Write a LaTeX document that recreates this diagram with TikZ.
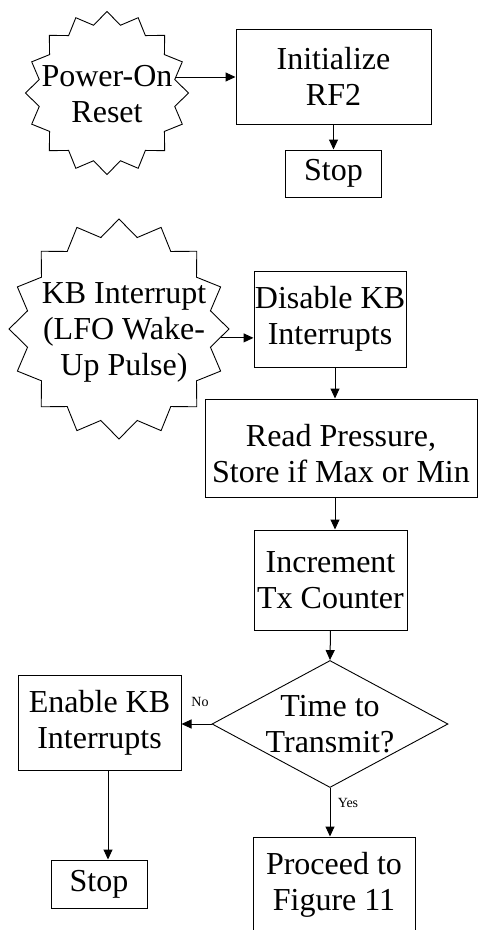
\documentclass[tikz,border=0pt]{standalone}
\usepackage{fontspec}
\setmainfont{Liberation Serif}
\usetikzlibrary{shapes.geometric,arrows.meta}
\begin{document}
\begin{tikzpicture}[x=1pt,y=-1pt,
  box/.style={draw,line width=1pt,inner sep=0pt,align=center,font=\fontsize{32}{36}\selectfont},
  txt/.style={align=center,font=\fontsize{32}{36}\selectfont,inner sep=0pt},
  burst/.style={draw,line width=0.9pt,star,star points=16,star point ratio=1.18,inner sep=0pt},
  decision/.style={draw,line width=0.9pt,diamond,inner sep=0pt},
  small/.style={font=\fontsize{14}{16}\selectfont,inner sep=0pt},
  arr/.style={line width=1pt,-{Triangle[length=10pt,width=9pt]}}]
\useasboundingbox (0,0) rectangle (479,930);
\clip (0,0) rectangle (479,930);
% top part
\node[burst,minimum size=163pt] (pwr) at (107,93) {};
\node[txt] (pwrt) at (107,94) {Power-On\\Reset};
\node[box,minimum width=195pt,minimum height=95pt] (init) at (333.5,76.5) {Initialize\\RF2};
\node[box,minimum width=96pt,minimum height=47pt] (stopa) at (333.5,173.5) {Stop};
% second part
\node[burst,minimum size=220pt] (kb) at (119,329) {};
\node[txt] (kbt) at (124,332) {KB Interrupt\\(LFO Wake-\\Up Pulse)};
\node[box,minimum width=152pt,minimum height=96pt] (dis) at (330,319) {Disable KB\\Interrupts};
\node[box,minimum width=272.5pt,minimum height=98pt] (read) at (341.25,448) {};
\node[txt] (readt) at (341,454) {Read Pressure,\\Store if Max or Min};
\node[box,minimum width=153pt,minimum height=100pt] (inc) at (330.5,580) {Increment\\Tx Counter};
\node[decision,minimum width=236pt,minimum height=127pt] (dia) at (330,724) {};
\node[txt] (diat) at (330,724) {Time to\\Transmit?};
\node[box,minimum width=163pt,minimum height=95pt] (en) at (99.5,722.5) {Enable KB\\Interrupts};
\node[box,minimum width=96pt,minimum height=48pt] (stopb) at (99,884) {Stop};
\node[box,minimum width=162pt,minimum height=123pt] (proc) at (334,898.5) {};
\node[txt] (proct) at (334,885) {Proceed to\\Figure 11};
\node[small] (no) at (200,702) {No};
\node[small] (yes) at (348,803) {Yes};
% connectors
\draw[arr] (pwr.13) -- (pwr.13 -| init.west);
\draw[arr] (init.south) -- (stopa.north);
\draw[arr] (kb.-5) -- (kb.-5 -| dis.west);
\draw[arr] ([xshift=5pt]dis.south) -- ([xshift=5pt]dis.south |- read.north);
\draw[arr] ([xshift=4.5pt]inc.north |- read.south) -- ([xshift=4.5pt]inc.north);
\draw[arr] (inc.south) -- (dia.north);
\draw[arr] (dia.west) -- (dia.west -| en.east);
\draw[arr] ([xshift=8.5pt]en.south) -- ([xshift=8.5pt]en.south |- stopb.north);
\draw[arr] (dia.south) -- (dia.south |- proc.north);
\end{tikzpicture}
\end{document}
